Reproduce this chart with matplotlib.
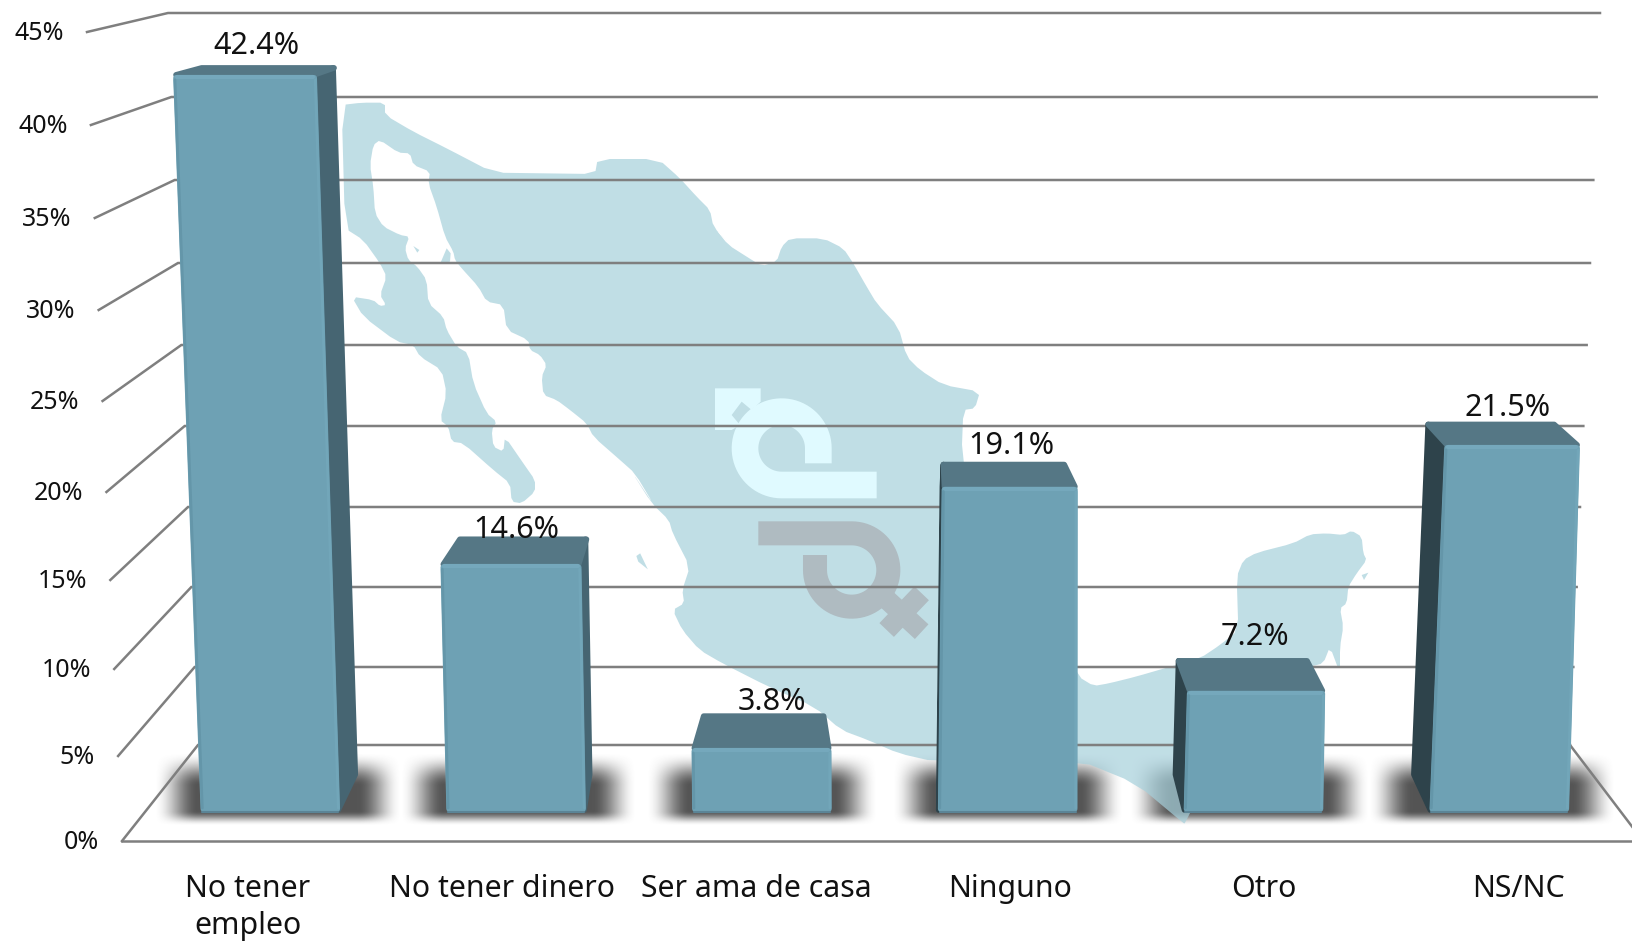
import numpy as np
import matplotlib
matplotlib.use("Agg")
import matplotlib.pyplot as plt
from matplotlib.patches import Polygon

plt.rcParams["font.family"] = ["Noto Sans", "DejaVu Sans"]

# -------------------------
# Data
# -------------------------
categories = ["No tener\nempleo", "No tener dinero", "Ser ama de casa", "Ninguno", "Otro", "NS/NC"]
values = [42.4, 14.6, 3.8, 19.1, 7.2, 21.5]
value_labels = ["42.4%", "14.6%", "3.8%", "19.1%", "7.2%", "21.5%"]
ticks = [0, 5, 10, 15, 20, 25, 30, 35, 40, 45]
tick_labels = ["0%", "5%", "10%", "15%", "20%", "25%", "30%", "35%", "40%", "45%"]

# -------------------------
# Layout of the fake 3D box (pixels)
# -------------------------
wall_front_y = [841, 756, 669, 580, 492, 401, 310, 218, 125, 32]
wall_back_y = [745, 667, 587, 507, 426, 345, 263, 180, 97, 13]
label_shift = [(-14, 22), (0, 10), (10, 15), (4, 19), (1, 24), (8, 17)]

CX = 815
GRID = "#7f7f7f"
FRONT = "#6ea1b4"
TOP = "#557785"
SIDE_R = "#466572"
SIDE_L = "#2e434b"


def center_x(c, v):
    return CX + (c - CX) * (1 + 0.001 * v)


def bar_y(v):
    return 812 - v * (16.75 + 0.015 * v)


def depth_y(v):
    return 37.5 - 0.65 * v


def back_x(x, c, side):
    # the back of a bar leans towards the middle and is a bit narrower
    k = 0.04 if c < CX else 0.03
    narrow = max(3, 8 * (1 - abs(c - CX) / 700))
    return x + (CX - x) * k + side * narrow


def zoom_pts(pts, x0, y0, sx=3.0, sy=3.0):
    return [(x0 + a / sx, y0 + b / sy) for a, b in pts]


def soften(pts):
    # one pass of corner cutting so the traced outline is less angular
    arr = np.array(pts, dtype=float)
    nxt = np.roll(arr, -1, axis=0)
    out = np.empty((len(arr) * 2, 2))
    out[0::2] = 0.8 * arr + 0.2 * nxt
    out[1::2] = 0.2 * arr + 0.8 * nxt
    return out


def smooth(a):
    a = np.clip(a, 0, 1)
    return a * a * (3 - 2 * a)


# -------------------------
# Map outline, traced by eye
# -------------------------
map_north = [(35, 45), (95, 38), (165, 38), (165, 75), (250, 125), (350, 175), (490, 248), (640, 250),
             (795, 252), (803, 207), (985, 207), (1050, 265), (1100, 320), (1140, 360), (1150, 410), (1200, 465)]
map_gulf = [(225, 265), (265, 315), (320, 350), (365, 378), (410, 365), (425, 320), (450, 295), (550, 295),
            (610, 325), (640, 370), (680, 440), (710, 490), (775, 560), (800, 650), (840, 690), (910, 735),
            (1020, 755), (1005, 805), (970, 810), (965, 940), (1000, 1100)]
map_isthmus = [(1250, 620), (1290, 648), (1330, 640), (1400, 620), (1490, 590)]
map_yucatan = [(210, 775), (270, 735), (325, 690), (320, 530), (340, 480), (380, 458), (490, 430), (540, 403),
               (590, 400), (640, 405), (665, 392), (695, 410), (700, 460), (710, 480), (680, 520), (655, 560),
               (650, 610), (630, 625), (640, 680), (630, 740), (630, 820), (600, 740), (580, 790), (540, 800),
               (300, 1000), (165, 1270)]
map_pacific = [(1525, 1060), (1400, 940), (1250, 870), (875, 875), (780, 850), (700, 810), (630, 780), (560, 710),
               (440, 650), (320, 580), (260, 540), (215, 480), (190, 420), (220, 400), (215, 360), (235, 290),
               (190, 190), (180, 150), (135, 100), (80, 0)]
map_coast = [(975, 1250), (915, 1150), (870, 1110), (790, 1040), (770, 1000), (720, 960), (680, 930), (640, 915),
             (635, 860), (650, 825), (630, 795), (600, 780), (595, 750), (530, 720), (520, 645), (470, 635),
             (445, 590), (395, 535), (375, 510), (370, 485), (345, 440), (320, 350), (295, 280), (300, 245),
             (250, 225), (240, 190), (205, 188), (150, 150), (130, 165), (120, 225), (130, 290), (135, 370),
             (160, 410), (210, 435), (238, 440), (225, 475), (235, 510), (262, 530), (290, 570), (295, 640),
             (340, 680), (350, 720), (380, 770), (415, 790), (430, 880), (470, 970), (500, 995), (485, 1020),
             (490, 1070), (520, 1085), (525, 1040), (580, 1120), (615, 1170), (615, 1205), (575, 1240), (545, 1235),
             (540, 1180), (490, 1140), (400, 1060), (365, 1055), (355, 1010), (330, 990), (350, 910), (335, 840),
             (270, 800), (250, 765), (200, 755), (100, 680), (65, 620), (130, 630), (150, 648), (168, 645),
             (150, 615), (170, 560), (150, 520), (100, 450), (45, 415)]

map_outline = (zoom_pts(map_north, 330, 90) + zoom_pts(map_gulf, 640, 140)
               + zoom_pts(map_isthmus, 600, 470, 2.613, 3) + zoom_pts(map_yucatan, 1130, 400)
               + zoom_pts(map_pacific, 600, 470, 2.613, 3) + zoom_pts(map_coast, 330, 90))
islands = [zoom_pts([(350, 475), (330, 522), (360, 515), (362, 490)], 330, 90),
           zoom_pts([(250, 468), (268, 480), (262, 488)], 330, 90),
           zoom_pts([(695, 525), (715, 518), (702, 540)], 1130, 400),
           zoom_pts([(95, 258), (105, 250), (125, 298), (100, 275)], 600, 470, 2.613, 3)]

# -------------------------
# Figure: one axes in pixel units
# -------------------------
fig = plt.figure(figsize=(16.33, 9.41), dpi=100)
ax = fig.add_axes([0, 0, 1, 1])
ax.axis("off")

centers = [270.3 + 245.8 * i for i in range(len(values))]
half_w = 70

# shadows under the bars
for c in centers:
    left, right = c - half_w, c + half_w
    dx_l = back_x(left, c, 1) - left
    dx_r = back_x(right, c, -1) - right
    x0 = left + min(dx_l, 0) - 46
    x1 = right + max(dx_r, 0) + 46
    xs = np.linspace(x0, x1, 300)
    ys = np.linspace(750, 828, 100)
    ramp_x = smooth((xs - x0) / 44) * smooth((x1 - xs) / 44)
    ramp_y = smooth((ys - 752) / 34) * smooth((826 - ys) / 15)
    rgba = np.zeros((len(ys), len(xs), 4))
    rgba[..., :3] = 0.33
    rgba[..., 3] = np.outer(ramp_y, ramp_x)
    ax.imshow(rgba, extent=(xs[0], xs[-1], ys[-1], ys[0]), origin="upper", aspect="auto", zorder=1)

# map
ax.add_patch(Polygon(soften(map_outline), closed=True, fc="#a6d0db", ec="none", alpha=0.7, zorder=2))
for isl in islands:
    ax.add_patch(Polygon(isl, closed=True, fc="#a6d0db", ec="none", alpha=0.7, zorder=2))

# male / female signs (drawn in the coordinates of the zoomed crop)
ox, oy = 660, 360
th = np.radians(np.linspace(90, 360, 60))
sign = [(650, 375)] + list(zip(365 + 110 * np.cos(th), 265 + 110 * np.sin(th))) + [(475, 310)]
sx_, sy_ = zip(*zoom_pts(sign, ox, oy))
ax.plot(sx_, sy_, color="#e0faff", lw=19.2, solid_capstyle="butt", solid_joinstyle="round", zorder=3)
head = zoom_pts([(165, 85), (302, 85), (302, 125), (275, 150), (245, 125), (215, 165), (240, 195),
                 (215, 210), (165, 210)], ox, oy)
ax.add_patch(Polygon(head, closed=True, fc="#e0faff", ec="none", zorder=3))

th = np.radians(np.linspace(-90, 180, 60))
sign = [(295, 520)] + list(zip(575 + 110 * np.cos(th), 630 + 110 * np.sin(th))) + [(465, 585)]
sx_, sy_ = zip(*zoom_pts(sign, ox, oy))
ax.plot(sx_, sy_, color="#afbbc1", lw=17.3, solid_capstyle="butt", solid_joinstyle="round", zorder=3)
for p0, p1 in [((655, 695), (785, 815)), ((680, 810), (785, 700))]:
    (xa, ya), (xb, yb) = zoom_pts([p0, p1], ox, oy)
    ax.plot([xa, xb], [ya, yb], color="#afbbc1", lw=14.4, solid_capstyle="butt", zorder=3)

# back wall, left wall, floor
for tk, lab, yf, yb in zip(ticks, tick_labels, wall_front_y, wall_back_y):
    xb = 198 - tk * 30 / 45
    xf = 122 - tk * 35 / 45
    xr = 1570 + tk * 30 / 45
    ax.plot([xf, xb, xr], [yf, yb, yb], color=GRID, lw=1.8, solid_joinstyle="miter", zorder=4)
    ax.text(xf - 23, yf - 1.5, lab, ha="right", va="center_baseline", fontsize=18, color="#111111", zorder=20)
ax.plot([122, 1633], [841, 841], color=GRID, lw=1.8, zorder=4)
ax.plot([1570, 1640], [745, 837], color=GRID, lw=1.8, zorder=4)

# bars
for i, (c, v) in enumerate(zip(centers, values)):
    z = 5 + i
    fl_b, fr_b = c - half_w, c + half_w
    ct = center_x(c, v)
    fl_t, fr_t = ct - half_w, ct + half_w
    if c < CX:
        fl_t -= 0.1 * v
    else:
        fr_t -= 0.18 * v
    y_t = bar_y(v)
    y_b = bar_y(0)
    bl_t, br_t = back_x(fl_t, c, 1), back_x(fr_t, c, -1)
    bl_b, br_b = back_x(fl_b, c, 1), back_x(fr_b, c, -1)
    yb_t = y_t - depth_y(v)
    yb_b = y_b - depth_y(0)

    style = dict(lw=4, joinstyle="round", zorder=z)
    ins = 3
    if c > CX:
        ax.add_patch(Polygon([(fl_t + 1, y_t), (bl_t, yb_t + ins), (bl_b, yb_b), (fl_b + 1, y_b - 2)], closed=True,
                             fc=SIDE_L, ec=SIDE_L, **style))
    elif br_t > fr_t:
        ax.add_patch(Polygon([(fr_t - 2, y_t), (br_t - 1, yb_t + ins), (br_b - 1, yb_b), (fr_b - 2, y_b - 2)], closed=True,
                             fc=SIDE_R, ec=SIDE_R, **style))
    ax.add_patch(Polygon([(fl_t + ins, y_t), (bl_t, yb_t + ins), (br_t, yb_t + ins), (fr_t - ins, y_t)], closed=True,
                         fc=TOP, ec=TOP, **style))
    ax.add_patch(Polygon([(fl_t + ins, y_t + ins), (fr_t - ins, y_t + ins), (fr_b - ins, y_b - ins), (fl_b + ins, y_b - ins)],
                         closed=True, fc=FRONT, ec=FRONT, **style))
    # bevel strips on the front face
    ax.plot([fl_t + 4, fr_t - 4], [y_t + 2, y_t + 2], color="#75a8bc", lw=3, solid_capstyle="round", zorder=z)
    ax.plot([fl_t + 2, fl_b + 2], [y_t + 5, y_b - 4], color="#6496a9", lw=2, solid_capstyle="round", zorder=z)
    ax.plot([fr_t - 2, fr_b - 2], [y_t + 5, y_b - 4], color="#72a6b9", lw=2, solid_capstyle="round", zorder=z)
    ax.plot([fl_b + 2, fr_b - 2], [y_b, y_b], color="#5b8496", lw=1.5, solid_capstyle="round", zorder=z)

    sx, sy = label_shift[i]
    ax.text(c + sx, yb_t - sy, value_labels[i], ha="center", va="center_baseline", fontsize=22,
            color="#111111", zorder=20)

# category labels
for i, cat in enumerate(categories):
    ax.text(248 + 254 * i, 874, cat, ha="center", va="top", fontsize=21.8, color="#111111",
            linespacing=1.3, zorder=20)

ax.set_xlim(0, 1633)
ax.set_ylim(941, 0)
fig.savefig("out.png", dpi=100, facecolor="white")
